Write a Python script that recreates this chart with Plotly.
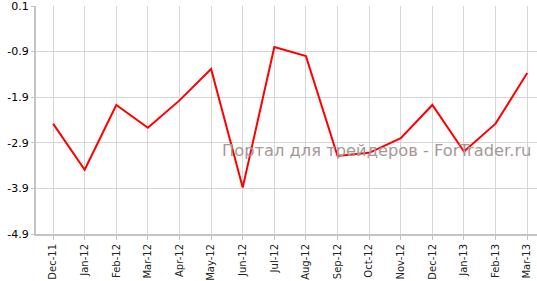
import plotly.graph_objects as go

months = ["Dec-11", "Jan-12", "Feb-12", "Mar-12", "Apr-12", "May-12", "Jun-12", "Jul-12",
          "Aug-12", "Sep-12", "Oct-12", "Nov-12", "Dec-12", "Jan-13", "Feb-13", "Mar-13"]
values = [-2.48, -3.49, -2.07, -2.57, -1.97, -1.28, -3.88, -0.80,
          -1.00, -3.19, -3.12, -2.80, -2.07, -3.09, -2.48, -1.37]
y_ticks = [0.1, -0.9, -1.9, -2.9, -3.9, -4.9]

fig = go.Figure()
fig.add_trace(go.Scatter(x=list(range(len(months))), y=values, mode="lines",
                         line=dict(color="#ff0000", width=2), hoverinfo="skip"))

fig.update_layout(
    width=537, height=281,
    margin=dict(l=36, r=0, t=5, b=43),
    paper_bgcolor="white", plot_bgcolor="white",
    showlegend=False,
    font=dict(family="DejaVu Sans, Verdana, sans-serif", color="#000000"),
    xaxis=dict(
        range=[-0.54, 15.31],
        tickmode="array", tickvals=list(range(len(months))), ticktext=months,
        tickangle=-90, tickfont=dict(size=10, color="#222222"),
        showgrid=True, gridcolor="#d6d6d6", gridwidth=1,
        showline=True, linecolor="#c4c4c4", linewidth=2,
        ticks="outside", ticklen=4, tickcolor="#c4c4c4",
        zeroline=False,
    ),
    yaxis=dict(
        range=[-4.9, 0.1],
        tickmode="array", tickvals=y_ticks, ticktext=[f"{v:.1f}" for v in y_ticks],
        tickfont=dict(size=11, color="#000000"),
        ticklabeloverflow="allow",
        showgrid=True, gridcolor="#d6d6d6", gridwidth=1,
        showline=True, linecolor="#c4c4c4", linewidth=2,
        ticks="outside", ticklen=3, tickcolor="#c4c4c4",
        zeroline=False,
    ),
    annotations=[dict(
        text="Портал для трейдеров - ForTrader.ru",
        x=(376.5 - 36) / 501, y=1 - (153 - 5) / 233, xref="paper", yref="paper",
        xanchor="center", yanchor="middle",
        showarrow=False, font=dict(size=16.3, color="#a69898",
                                   family="DejaVu Sans, Verdana, sans-serif"),
    )],
)
fig.write_html("out.html")
